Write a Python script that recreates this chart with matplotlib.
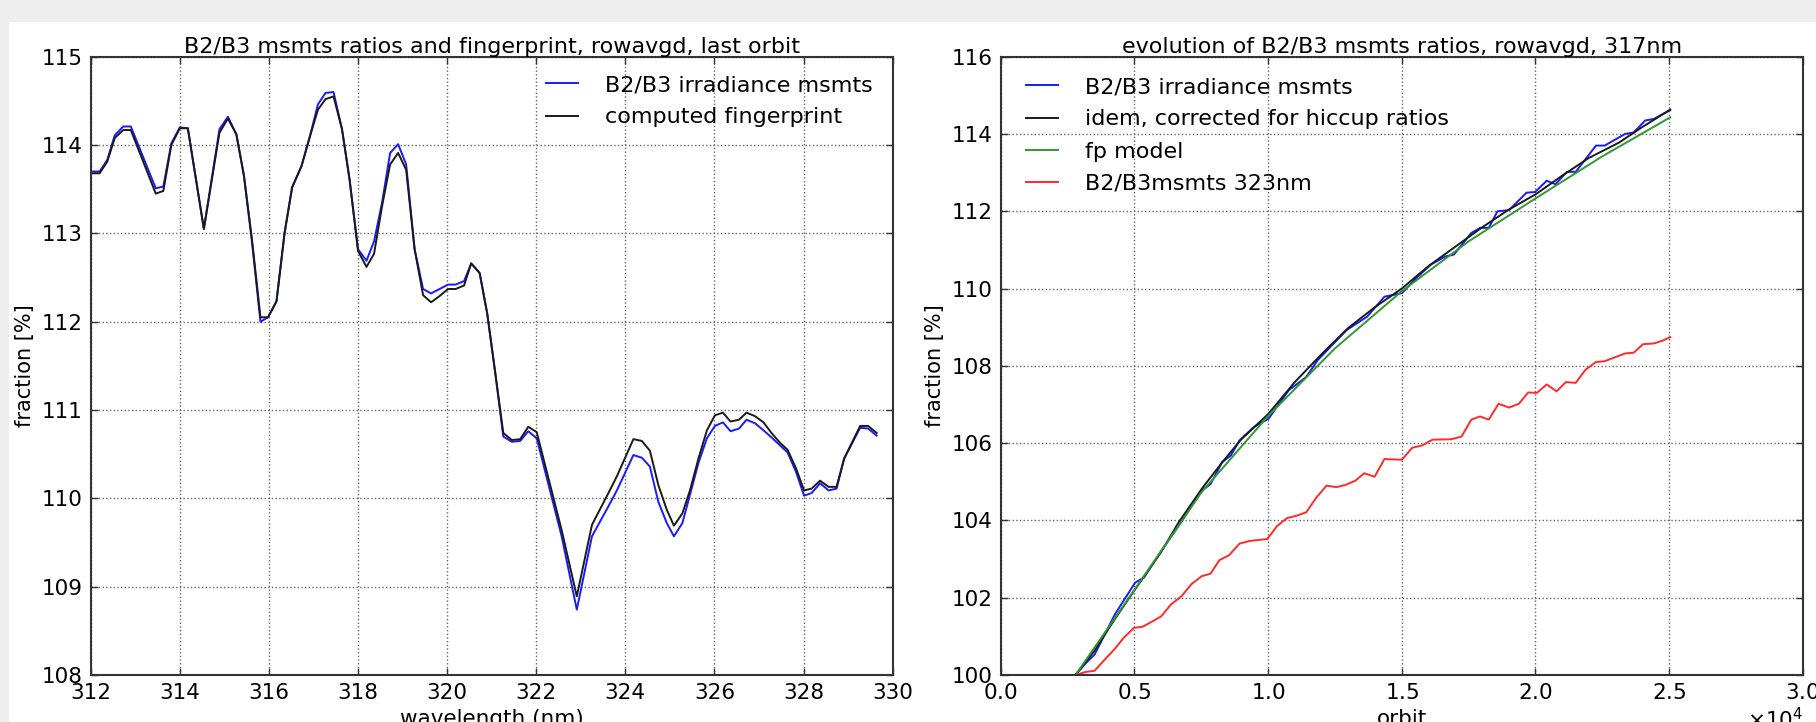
import numpy as np
import matplotlib
matplotlib.use('Agg')
import matplotlib.pyplot as plt
from matplotlib.patches import Rectangle

# ---- left panel: last orbit, ratio vs wavelength ----
wavelength = [312.00, 312.20, 312.37, 312.54, 312.73, 312.90, 313.46, 313.63, 313.81, 314.00,
              314.18, 314.54, 314.89, 315.08, 315.27, 315.44, 315.62, 315.81, 315.98, 316.17,
              316.35, 316.52, 316.73, 316.91, 317.10, 317.27, 317.45, 317.64, 317.81, 318.00,
              318.19, 318.36, 318.54, 318.72, 318.90, 319.08, 319.27, 319.46, 319.64, 319.83,
              320.02, 320.19, 320.38, 320.54, 320.73, 320.90, 321.08, 321.26, 321.45, 321.64,
              321.82, 322.01, 322.57, 322.91, 323.25, 323.62, 323.81, 324.18, 324.37, 324.55,
              324.74, 324.93, 325.09, 325.28, 325.45, 325.64, 325.83, 326.01, 326.19, 326.36,
              326.55, 326.72, 326.91, 327.10, 327.28, 327.47, 327.64, 327.83, 328.01, 328.18,
              328.37, 328.56, 328.74, 328.91, 329.27, 329.45, 329.64]
ratio_msmts = [113.70, 113.70, 113.83, 114.11, 114.21, 114.21, 113.51, 113.53, 114.02, 114.20,
               114.19, 113.05, 114.18, 114.32, 114.12, 113.65, 112.90, 112.00, 112.05, 112.23,
               113.00, 113.52, 113.76, 114.08, 114.46, 114.59, 114.60, 114.18, 113.61, 112.82,
               112.69, 112.91, 113.35, 113.91, 114.01, 113.78, 112.82, 112.37, 112.32, 112.37,
               112.42, 112.42, 112.46, 112.66, 112.55, 112.09, 111.42, 110.70, 110.64, 110.65,
               110.76, 110.68, 109.57, 108.74, 109.57, 109.91, 110.09, 110.49, 110.46, 110.36,
               109.96, 109.72, 109.57, 109.72, 110.04, 110.40, 110.68, 110.82, 110.86, 110.76,
               110.79, 110.89, 110.85, 110.77, 110.69, 110.60, 110.52, 110.30, 110.03, 110.06,
               110.17, 110.09, 110.11, 110.45, 110.80, 110.79, 110.71]
ratio_fingerprint = [113.68, 113.68, 113.81, 114.08, 114.17, 114.17, 113.45, 113.48, 114.00, 114.19,
                     114.19, 113.05, 114.14, 114.30, 114.12, 113.65, 112.93, 112.05, 112.05, 112.23,
                     113.00, 113.52, 113.76, 114.08, 114.40, 114.52, 114.55, 114.18, 113.61, 112.80,
                     112.62, 112.77, 113.31, 113.78, 113.91, 113.72, 112.82, 112.30, 112.22, 112.29,
                     112.37, 112.37, 112.41, 112.66, 112.55, 112.09, 111.42, 110.74, 110.66, 110.67,
                     110.81, 110.75, 109.64, 108.89, 109.70, 110.06, 110.25, 110.67, 110.65, 110.54,
                     110.15, 109.87, 109.69, 109.83, 110.09, 110.45, 110.77, 110.94, 110.97, 110.87,
                     110.89, 110.97, 110.93, 110.86, 110.74, 110.63, 110.55, 110.34, 110.09, 110.11,
                     110.20, 110.13, 110.13, 110.45, 110.82, 110.82, 110.74]

# ---- right panel: evolution at 317nm ----
orbit_317 = [2797, 3187, 3513, 4272, 5030, 5356, 6006, 6657, 7524, 7849,
             8283, 8608, 8933, 9475, 10017, 10776, 11427, 11860, 12403, 12945,
             13703, 14354, 15004, 15547, 16089, 16631, 16956, 17606, 17931, 18257,
             18582, 19016, 19666, 19991, 20425, 20750, 21184, 21509, 22268, 22593,
             23352, 23677, 24111, 24436, 25043]
ratio_317 = [100.00, 100.31, 100.53, 101.57, 102.39, 102.52, 103.21, 103.86, 104.77, 104.94,
             105.51, 105.68, 106.07, 106.42, 106.63, 107.37, 107.71, 108.15, 108.54, 108.93,
             109.27, 109.79, 109.88, 110.27, 110.62, 110.83, 110.88, 111.44, 111.57, 111.57,
             112.00, 112.03, 112.48, 112.50, 112.79, 112.70, 113.02, 113.02, 113.70, 113.70,
             114.00, 114.04, 114.35, 114.39, 114.62]

orbit_corr = [2797, 3500, 4272, 5030, 6000, 6657, 7524, 8283, 9000, 10017,
              11000, 12000, 13000, 14000, 15004, 16000, 17000, 18000, 19000, 20035,
              21000, 22000, 23135, 24000, 25043]
ratio_317_corr = [100.00, 100.62, 101.45, 102.22, 103.18, 103.95, 104.82, 105.50, 106.10, 106.76,
                  107.58, 108.30, 108.98, 109.52, 110.00, 110.58, 111.08, 111.58, 112.04, 112.45,
                  112.92, 113.38, 113.78, 114.18, 114.63]

orbit_model = [2797, 5000, 7500, 10000, 12500, 15000, 17500, 20000, 22500, 25043]
ratio_model = [100.00, 102.20, 104.72, 106.70, 108.45, 109.93, 111.22, 112.33, 113.42, 114.43]

orbit_323 = [2797, 3187, 3513, 3946, 4272, 4597, 4987, 5312, 5681, 6006,
             6375, 6765, 7134, 7524, 7849, 8175, 8543, 8933, 9324, 9974,
             10343, 10711, 11058, 11427, 11817, 12186, 12554, 12901, 13270, 13595,
             13985, 14354, 15004, 15395, 15763, 16153, 16847, 17237, 17606, 17931,
             18257, 18625, 19016, 19384, 19731, 20056, 20425, 20793, 21140, 21509,
             21878, 22268, 22593, 23352, 23677, 24025, 24436, 24750, 25043]
ratio_323 = [100.00, 100.08, 100.11, 100.44, 100.68, 100.96, 101.22, 101.25, 101.39, 101.52,
             101.83, 102.04, 102.35, 102.56, 102.62, 102.97, 103.10, 103.40, 103.47, 103.52,
             103.86, 104.06, 104.12, 104.21, 104.60, 104.90, 104.86, 104.92, 105.03, 105.22,
             105.13, 105.59, 105.57, 105.88, 105.94, 106.09, 106.10, 106.17, 106.61, 106.69,
             106.61, 107.02, 106.92, 107.02, 107.31, 107.30, 107.52, 107.34, 107.58, 107.56,
             107.90, 108.10, 108.12, 108.32, 108.34, 108.56, 108.58, 108.65, 108.74]

plt.rcParams['font.family'] = 'DejaVu Sans'
plt.rcParams['font.size'] = 15.5

BLUE = '#1a1aff'
BLACK = '#1a1a1a'
GREEN = '#2e9a2e'
RED = '#ff2a2a'

# small vertical nudges of the legend anchors (axes fraction)
legUpLeft = 1.5 / 618.3
legUpRight = 5.0 / 618.3


def styleAxes(ax):
    ax.grid(True, linestyle=':', color='0.4', linewidth=1.0)
    for sp in ax.spines.values():
        sp.set_color('#333333')
        sp.set_linewidth(1.5)
    ax.tick_params(direction='in', length=5, width=1, color='#333333',
                   top=True, right=True, pad=6, labelsize=15.5)


fig = plt.figure(figsize=(18.16, 7.22), dpi=100, facecolor='#eeeeee')
fig.patches.append(Rectangle((9 / 1816, 0), 1, 1 - 22 / 722, transform=fig.transFigure,
                             facecolor='white', edgecolor='none', zorder=-10))

ax1 = fig.add_axes([90.7 / 1816, 1 - 675 / 722, 802 / 1816, 618.3 / 722])
ax1.plot(wavelength, ratio_msmts, color=BLUE, lw=1.4, label='B2/B3 irradiance msmts')
ax1.plot(wavelength, ratio_fingerprint, color=BLACK, lw=1.4, label='computed fingerprint')
ax1.set_xlim(312, 330)
ax1.set_ylim(108, 115)
ax1.set_xticks(np.arange(312, 331, 2))
ax1.set_title('B2/B3 msmts ratios and fingerprint, rowavgd, last orbit', fontsize=16, pad=3)
ax1.set_xlabel('wavelength (nm)', fontsize=15.5)
ax1.set_ylabel('fraction [%]', fontsize=15, labelpad=4.5)
styleAxes(ax1)
ax1.legend(loc='upper right', bbox_to_anchor=(1, 1 + legUpLeft), frameon=False, fontsize=16,
           handlelength=1.45, handletextpad=1.2, labelspacing=0.55)

ax2 = fig.add_axes([1000.7 / 1816, 1 - 675 / 722, 802 / 1816, 618.3 / 722])
ax2.plot(orbit_317, ratio_317, color=BLUE, lw=1.4, label='B2/B3 irradiance msmts')
ax2.plot(orbit_corr, ratio_317_corr, color=BLACK, lw=1.4, label='idem, corrected for hiccup ratios')
ax2.plot(orbit_model, ratio_model, color=GREEN, lw=1.4, label='fp model')
ax2.plot(orbit_323, ratio_323, color=RED, lw=1.4, label='B2/B3msmts 323nm')
ax2.set_xlim(0, 30000)
ax2.set_ylim(100, 116)
ax2.set_title('evolution of B2/B3 msmts ratios, rowavgd, 317nm', fontsize=16, pad=3)
ax2.set_xlabel('orbit', fontsize=15.5)
ax2.set_ylabel('fraction [%]', fontsize=15, labelpad=4.5)
ax2.ticklabel_format(axis='x', style='sci', scilimits=(0, 0), useMathText=True)
styleAxes(ax2)
ax2.legend(loc='upper left', bbox_to_anchor=(0, 1 + legUpRight), frameon=False, fontsize=16,
           handlelength=1.45, handletextpad=1.2, labelspacing=0.55, borderaxespad=0.75)

plt.savefig('out.png', dpi=100, facecolor=fig.get_facecolor())
